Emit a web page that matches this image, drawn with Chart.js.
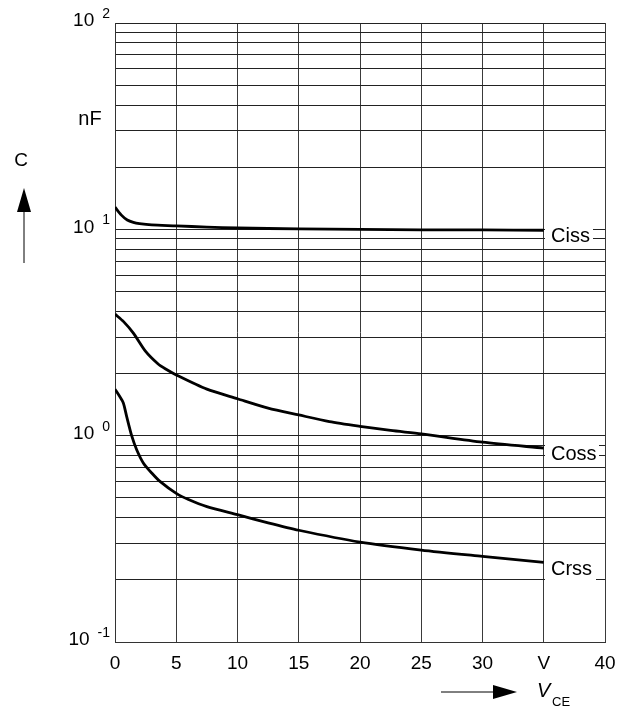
<!DOCTYPE html>
<html>
<head>
<meta charset="utf-8">
<script src="https://cdn.jsdelivr.net/npm/chart.js@4.4.1/dist/chart.umd.min.js"></script>
<style>
html,body{margin:0;padding:0;background:#fff;}
canvas{display:block;}
</style>
</head>
<body>
<canvas id="c" width="629" height="708"></canvas>
<script>
// ---- data ----
const cissV = [0, 0.5, 1, 1.5, 2, 3, 5, 7.5, 10, 15, 20, 25, 30, 35];
const cissC = [12.8, 11.75, 11.1, 10.8, 10.65, 10.5, 10.4, 10.25, 10.15, 10.05, 10.0, 9.95, 9.93, 9.9];
const cossV = [0, 0.7, 1.5, 2.5, 3.5, 4.1, 5, 7.5, 10, 12.5, 15, 17.5, 20, 22.5, 25, 30, 35];
const cossC = [3.88, 3.57, 3.14, 2.56, 2.23, 2.11, 1.97, 1.68, 1.51, 1.36, 1.26, 1.17, 1.11, 1.06, 1.02, 0.93, 0.87];
const crssV = [0, 0.35, 0.68, 0.95, 1.36, 1.77, 2.31, 3.0, 3.67, 5, 6, 7.5, 10, 12.5, 15, 20, 25, 30, 35];
const crssC = [1.68, 1.56, 1.44, 1.24, 1.0, 0.855, 0.738, 0.659, 0.6, 0.525, 0.49, 0.453, 0.414, 0.378, 0.348, 0.305, 0.279, 0.26, 0.243];
const seriesNames = ['Ciss', 'Coss', 'Crss'];
const xTicks = [0, 5, 10, 15, 20, 25, 30, 35, 40];
const xTickLabels = ['0', '5', '10', '15', '20', '25', '30', 'V', '40'];
const yTicks = [0.1,0.2,0.3,0.4,0.5,0.6,0.7,0.8,0.9,1,2,3,4,5,6,7,8,9,10,20,30,40,50,60,70,80,90,100];
const yDecades = [100, 10, 1, 0.1];
const yDecadeExp = ['2', '1', '0', '-1'];

const FONT = '"Liberation Sans", Arial, sans-serif';
const toPts = (xs, ys) => xs.map((x, i) => ({x, y: ys[i]}));

const lineStyle = {
  borderColor: '#000', borderWidth: 2.8, pointRadius: 0, showLine: true,
  tension: 0.25, fill: false
};

const labelBoxes = {
  Ciss: {x0: 545, x1: 593, y0: 225, y1: 245},
  Coss: {x0: 545, x1: 599, y0: 441, y1: 466},
  Crss: {x0: 545, x1: 596, y0: 555, y1: 581}
};

const deco = {
  id: 'deco',
  afterDraw(chart) {
    const ctx = chart.ctx;
    const xs = chart.scales.x, ys = chart.scales.y;
    ctx.save();
    // series labels with white boxes
    seriesNames.forEach((n, i) => {
      const b = labelBoxes[n];
      ctx.fillStyle = '#fff';
      ctx.fillRect(b.x0, b.y0, b.x1 - b.x0, b.y1 - b.y0);
      ctx.fillStyle = '#000';
      ctx.font = '20px ' + FONT;
      ctx.textBaseline = 'middle';
      ctx.textAlign = 'left';
      ctx.fillText(n, 551, (b.y0 + b.y1) / 2 + 1);
    });
    // x tick labels
    ctx.font = '19px ' + FONT;
    ctx.textAlign = 'center';
    ctx.textBaseline = 'middle';
    xTicks.forEach((v, i) => {
      ctx.fillText(xTickLabels[i], xs.getPixelForValue(v), 664);
    });
    // y decade labels
    yDecades.forEach((v, i) => {
      const py = ys.getPixelForValue(v);
      ctx.font = '14px ' + FONT;
      ctx.textAlign = 'right';
      ctx.fillText(yDecadeExp[i], 110, py - 9);
      const w = ctx.measureText(yDecadeExp[i]).width;
      ctx.font = '19px ' + FONT;
      ctx.fillText('10', 110 - w - 8, py - 2);
    });
    // unit and axis labels
    ctx.textAlign = 'center';
    ctx.font = '20px ' + FONT;
    ctx.fillText('nF', 90, 119);
    ctx.font = '19px ' + FONT;
    ctx.fillText('C', 21, 161);
    // up arrow
    ctx.strokeStyle = '#000';
    ctx.lineWidth = 1;
    ctx.beginPath(); ctx.moveTo(24, 263); ctx.lineTo(24, 210); ctx.stroke();
    ctx.beginPath(); ctx.moveTo(24, 188); ctx.lineTo(31, 212); ctx.lineTo(17, 212); ctx.closePath(); ctx.fill();
    // right arrow
    ctx.beginPath(); ctx.moveTo(441, 692); ctx.lineTo(495, 692); ctx.stroke();
    ctx.beginPath(); ctx.moveTo(517, 692); ctx.lineTo(493, 685); ctx.lineTo(493, 699); ctx.closePath(); ctx.fill();
    // V_CE
    ctx.textAlign = 'left';
    ctx.textBaseline = 'alphabetic';
    ctx.font = 'italic 20px ' + FONT;
    ctx.fillText('V', 537, 697);
    ctx.font = '13px ' + FONT;
    ctx.fillText('CE', 552, 706);
    ctx.restore();
  }
};

new Chart(document.getElementById('c'), {
  type: 'scatter',
  data: {
    datasets: [
      Object.assign({label: seriesNames[0], data: toPts(cissV, cissC)}, lineStyle),
      Object.assign({label: seriesNames[1], data: toPts(cossV, cossC)}, lineStyle),
      Object.assign({label: seriesNames[2], data: toPts(crssV, crssC)}, lineStyle)
    ]
  },
  options: {
    responsive: false,
    devicePixelRatio: 1,
    animation: false,
    layout: {padding: {left: 115, right: 24, top: 23, bottom: 66}},
    plugins: {legend: {display: false}, tooltip: {enabled: false}},
    scales: {
      x: {
        type: 'linear', min: 0, max: 40,
        afterBuildTicks: s => { s.ticks = xTicks.map(v => ({value: v})); },
        ticks: {display: false},
        grid: {color: '#3a3a3a', lineWidth: 1, drawTicks: false},
        border: {display: true, color: '#333', width: 1}
      },
      y: {
        type: 'logarithmic', min: 0.1, max: 100,
        afterBuildTicks: s => { s.ticks = yTicks.map(v => ({value: v})); },
        ticks: {display: false},
        grid: {color: '#222', lineWidth: 1, drawTicks: false},
        border: {display: true, color: '#333', width: 1}
      }
    }
  },
  plugins: [deco]
});
</script>
</body>
</html>
